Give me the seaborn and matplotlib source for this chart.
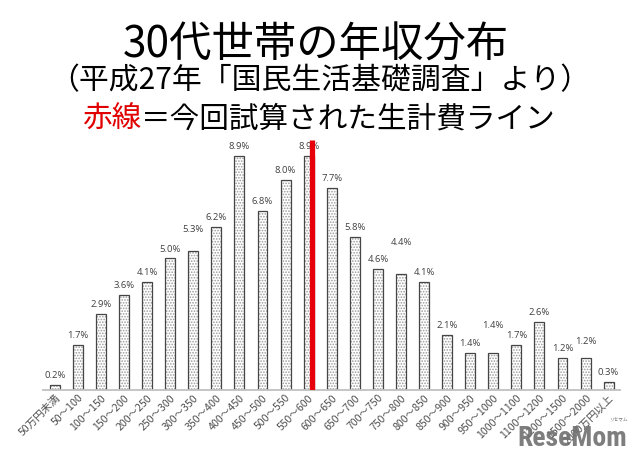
import matplotlib
matplotlib.use("Agg")
import matplotlib.pyplot as plt
from matplotlib import font_manager
import seaborn as sns
import pandas as pd

# ---- data ----
categories = ["50万円未満", "50～100", "100～150", "150～200", "200～250", "250～300",
              "300～350", "350～400", "400～450", "450～500", "500～550", "550～600",
              "600～650", "650～700", "700～750", "750～800", "800～850", "850～900",
              "900～950", "950～1000", "1000～1100", "1100～1200", "1200～1500",
              "1500～2000", "2000万円以上"]
shares = [0.2, 1.7, 2.9, 3.6, 4.1, 5.0, 5.3, 6.2, 8.9, 6.8, 8.0, 8.9,
          7.7, 5.8, 4.6, 4.4, 4.1, 2.1, 1.4, 1.4, 1.7, 2.6, 1.2, 1.2, 0.3]
# extra lift of some value labels (staggered in the original), in % units
label_lift = [0, 0, 0, 0, 0, 0, 0.45, 0, 0, 0, 0, 0,
              0, 0, 0, 0.85, 0, 0, 0, 0.68, 0, 0, 0, 0.27, 0]
# living-cost line: sits just right of the 550～600 bar
line_category = 11
line_offset = 0.13
line_top = 9.5

title1 = "30代世帯の年収分布"
title2 = "（平成27年「国民生活基礎調査」より）"
title3_red = "赤線"
title3_rest = "＝今回試算された生計費ライン"

df = pd.DataFrame({"cat": categories, "share": shares})

sns.set_theme(style="white")
plt.rcParams["font.family"] = ["Noto Sans CJK JP", "DejaVu Sans"]
plt.rcParams["hatch.linewidth"] = 0.8

fig = plt.figure(figsize=(6.4, 4.62), dpi=100)
ax = fig.add_axes([0.067, 0.156, 0.902, 0.569])

# dotted fill
sns.barplot(data=df, x="cat", y="share", ax=ax, width=0.43,
            color="white", edgecolor="#9a9a9a", linewidth=0, saturation=1)
for p in ax.patches:
    p.set_hatch("......")
    p.set_facecolor("white")
# outline
sns.barplot(data=df, x="cat", y="share", ax=ax, width=0.43, fill=False,
            color="#454545", linewidth=0.9, saturation=1)

for i, (v, lift) in enumerate(zip(shares, label_lift)):
    ax.text(i, v + 0.36 + lift, f"{v:.1f}%", ha="center", va="center",
            fontsize=6.8, color="#404040", family=["Open Sans", "DejaVu Sans"])

ax.vlines(line_category + line_offset, 0, line_top, color="#e8000b", lw=3.8, zorder=5)

ax.set_xlim(-0.52, 24.5)
ax.set_ylim(0, 10)
ax.set_xlabel("")
ax.set_ylabel("")
ax.set_yticks([])
for s in ["top", "right", "left"]:
    ax.spines[s].set_visible(False)
ax.spines["bottom"].set_color("#c0c0c0")
ax.spines["bottom"].set_linewidth(1.3)
ax.tick_params(axis="x", length=0, pad=2)
ax.set_xticks(range(len(categories)))
ax.set_xticklabels(categories, rotation=45, ha="right", rotation_mode="anchor",
                   fontsize=7.6, color="#505050")

fig.text(0.494, 1 - 46 / 462, title1, ha="center", va="center", fontsize=30.5, color="black")
fig.text(0.5, 1 - 81 / 462, title2, ha="center", va="center", fontsize=21.5, color="black")

# third line: red part + black part, centered together
fig.canvas.draw()
r = fig.canvas.get_renderer()
y3 = 1 - 119 / 462
t_red = fig.text(0, y3, title3_red, ha="left", va="center", fontsize=21.3, color="#e00000")
t_rest = fig.text(0, y3, title3_rest, ha="left", va="center", fontsize=21.3, color="black")
w_red = t_red.get_window_extent(r).width / fig.bbox.width
w_rest = t_rest.get_window_extent(r).width / fig.bbox.width
x0 = 0.498 - (w_red + w_rest) / 2
t_red.set_x(x0)
t_rest.set_x(x0 + w_red)

# watermark (condensed bold face if one is installed)
names = {f.name for f in font_manager.fontManager.ttflist}
wm_family = "Roboto"
wm_stretch = "normal"
for cand in ["Liberation Sans Narrow", "Roboto Condensed", "Open Sans Condensed",
             "Noto Sans Condensed", "DejaVu Sans Condensed"]:
    if cand in names:
        wm_family = cand
        break
else:
    condensed = [f for f in font_manager.fontManager.ttflist
                 if f.name in ("Noto Sans", "Open Sans", "DejaVu Sans")
                 and str(f.stretch) in ("condensed", "semi-condensed", "75", "87")]
    if condensed:
        wm_family = condensed[0].name
        wm_stretch = "condensed"
wm = fig.text(627 / 640, 1 - 438 / 462, "ReseMom", ha="right", va="center", fontsize=22,
              fontweight="bold", color="#707070", alpha=0.9,
              family=[wm_family, "DejaVu Sans"], fontstretch=wm_stretch)
fig.canvas.draw()
w = wm.get_window_extent(r).width
if w > 0:
    wm.set_fontsize(22 * 110 / w)
fig.text(618 / 640, 1 - 419 / 462, "リセマム", ha="center", va="center", fontsize=3.3,
         color="#707070")

fig.savefig("out.png", dpi=100)
